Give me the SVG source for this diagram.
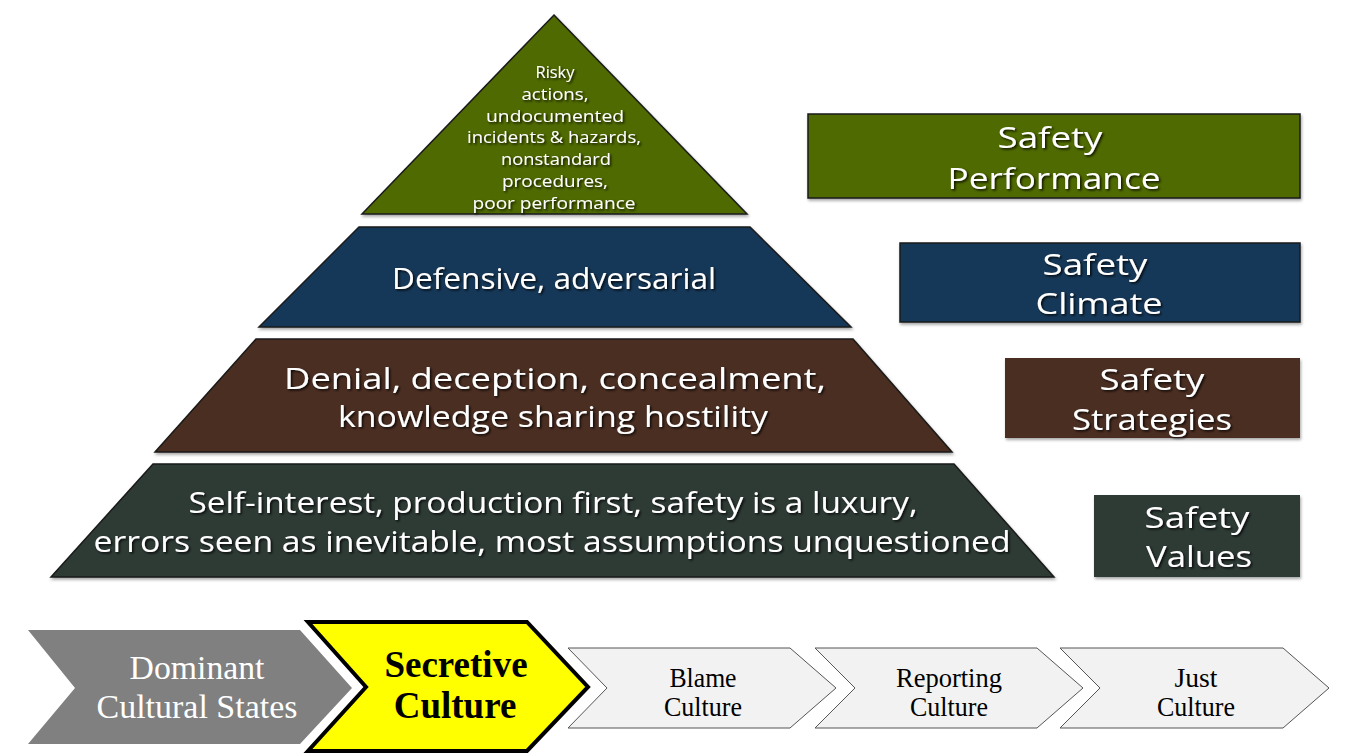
<svg xmlns="http://www.w3.org/2000/svg" width="1348" height="756" viewBox="0 0 1348 756">
<defs>
<filter id="ts" x="-10%" y="-30%" width="120%" height="160%">
<feDropShadow dx="1.5" dy="1.5" stdDeviation="0.8" flood-color="#000" flood-opacity="0.85"/>
</filter>
<filter id="bs" x="-5%" y="-5%" width="110%" height="115%">
<feDropShadow dx="1" dy="2" stdDeviation="1.5" flood-color="#000" flood-opacity="0.35"/>
</filter>
<style>
.lvl{stroke:#1a1a1a;stroke-width:1.5;filter:url(#bs)}
.g{fill:#4f6b00}.b{fill:#173758}.br{fill:#4b2e20}.d{fill:#2e3b34}
.t{font-family:"Open Sans","DejaVu Sans",sans-serif;fill:#fff;text-anchor:middle;filter:url(#ts)}
.t30{font-size:30px}.t17{font-size:17px}
.box{stroke:#1a1a1a;stroke-width:1.5;filter:url(#bs)}
.chev{fill:#f2f2f2;stroke:#555;stroke-width:1}
.tm{font-family:"Liberation Serif","Times New Roman",serif;text-anchor:middle}
</style>
</defs>
<rect width="1348" height="756" fill="#fff"/>

<g id="level-performance">
<polygon class="lvl g" points="554,15 747,214 362,214"/>
<text class="t t17" x="555" y="78" textLength="39" lengthAdjust="spacingAndGlyphs">Risky</text>
<text class="t t17" x="555" y="100" textLength="67" lengthAdjust="spacingAndGlyphs">actions,</text>
<text class="t t17" x="555" y="122" textLength="138" lengthAdjust="spacingAndGlyphs">undocumented</text>
<text class="t t17" x="554" y="143" textLength="174" lengthAdjust="spacingAndGlyphs">incidents &amp; hazards,</text>
<text class="t t17" x="556" y="165" textLength="110" lengthAdjust="spacingAndGlyphs">nonstandard</text>
<text class="t t17" x="555" y="187" textLength="106" lengthAdjust="spacingAndGlyphs">procedures,</text>
<text class="t t17" x="554" y="209" textLength="163" lengthAdjust="spacingAndGlyphs">poor performance</text>
</g>

<g id="level-climate">
<polygon class="lvl b" points="359,227 750,227 851,327 259,327"/>
<text class="t t30" x="554" y="289" textLength="324" lengthAdjust="spacingAndGlyphs">Defensive, adversarial</text>
</g>

<g id="level-strategies">
<polygon class="lvl br" points="256,339 853,339 952,452 155,452"/>
<text class="t t30" x="555" y="389" textLength="542" lengthAdjust="spacingAndGlyphs">Denial, deception, concealment,</text>
<text class="t t30" x="553" y="427" textLength="430" lengthAdjust="spacingAndGlyphs">knowledge sharing hostility</text>
</g>

<g id="level-values">
<polygon class="lvl d" points="153,464 954,464 1054,577 51,577"/>
<text class="t t30" x="553" y="513" textLength="729" lengthAdjust="spacingAndGlyphs">Self-interest, production first, safety is a luxury,</text>
<text class="t t30" x="552" y="552" textLength="917" lengthAdjust="spacingAndGlyphs">errors seen as inevitable, most assumptions unquestioned</text>
</g>

<g id="label-performance">
<rect class="box g" x="808" y="114" width="492" height="84"/>
<text class="t t30" x="1050" y="148" textLength="105" lengthAdjust="spacingAndGlyphs">Safety</text>
<text class="t t30" x="1054" y="189" textLength="213" lengthAdjust="spacingAndGlyphs">Performance</text>
</g>

<g id="label-climate">
<rect class="box b" x="900" y="243" width="400" height="79"/>
<text class="t t30" x="1095" y="275" textLength="105" lengthAdjust="spacingAndGlyphs">Safety</text>
<text class="t t30" x="1099" y="314" textLength="127" lengthAdjust="spacingAndGlyphs">Climate</text>
</g>

<g id="label-strategies">
<rect class="box br" x="1005" y="358" width="295" height="80" style="stroke:none"/>
<text class="t t30" x="1152" y="390" textLength="105" lengthAdjust="spacingAndGlyphs">Safety</text>
<text class="t t30" x="1152" y="430" textLength="160" lengthAdjust="spacingAndGlyphs">Strategies</text>
</g>

<g id="label-values">
<rect class="box d" x="1094" y="495" width="206" height="82" style="stroke:none"/>
<text class="t t30" x="1197" y="528" textLength="105" lengthAdjust="spacingAndGlyphs">Safety</text>
<text class="t t30" x="1199" y="567" textLength="106" lengthAdjust="spacingAndGlyphs">Values</text>
</g>

<g id="state-dominant">
<polygon points="28,630 300,630 352,688 300,744 28,744 75,688" fill="#808080"/>
<text class="tm" x="197" y="679" font-size="33" fill="#fff" textLength="135" lengthAdjust="spacingAndGlyphs">Dominant</text>
<text class="tm" x="197" y="718" font-size="33" fill="#fff" textLength="201" lengthAdjust="spacingAndGlyphs">Cultural States</text>
</g>

<g id="state-secretive">
<polygon points="308,622 527,622 588,687 527,751 308,751 366,687" fill="#ffff00" stroke="#000" stroke-width="4" stroke-linejoin="miter"/>
<text class="tm" x="456" y="677" font-size="37" font-weight="bold" fill="#000">Secretive</text>
<text class="tm" x="455" y="718" font-size="37" font-weight="bold" fill="#000">Culture</text>
</g>

<g id="state-blame">
<polygon class="chev" points="568,648 790,648 836,688 790,728 568,728 607,688"/>
<text class="tm" x="703" y="687" font-size="28" fill="#000" textLength="67" lengthAdjust="spacingAndGlyphs">Blame</text>
<text class="tm" x="703" y="716" font-size="28" fill="#000" textLength="78" lengthAdjust="spacingAndGlyphs">Culture</text>
</g>

<g id="state-reporting">
<polygon class="chev" points="815,648 1037,648 1083,688 1037,728 815,728 855,688"/>
<text class="tm" x="949" y="687" font-size="28" fill="#000" textLength="106" lengthAdjust="spacingAndGlyphs">Reporting</text>
<text class="tm" x="949" y="716" font-size="28" fill="#000" textLength="78" lengthAdjust="spacingAndGlyphs">Culture</text>
</g>

<g id="state-just">
<polygon class="chev" points="1060,648 1283,648 1329,688 1283,728 1060,728 1100,688"/>
<text class="tm" x="1196" y="687" font-size="28" fill="#000" textLength="43" lengthAdjust="spacingAndGlyphs">Just</text>
<text class="tm" x="1196" y="716" font-size="28" fill="#000" textLength="78" lengthAdjust="spacingAndGlyphs">Culture</text>
</g>

<g id="connectors"></g>
</svg>
